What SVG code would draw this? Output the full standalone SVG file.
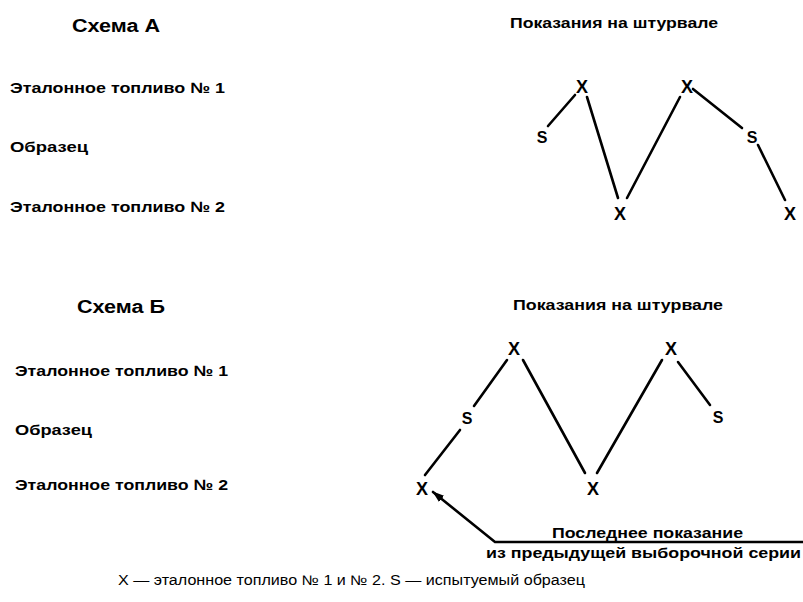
<svg xmlns="http://www.w3.org/2000/svg" width="803" height="602" viewBox="0 0 803 602">
<style>
.t{font-family:"Liberation Sans",Arial,sans-serif;font-weight:bold;fill:#000}
.h{font-size:18px}
.l{font-size:15px}
.m{font-size:18px;text-anchor:middle}
.s{font-size:16px;text-anchor:middle}
.f{font-family:"Liberation Sans",Arial,sans-serif;font-size:14px;fill:#000}
.c{stroke:#000;stroke-width:2.6;fill:none;stroke-linecap:round}
</style>
<defs>
<marker id="ah" viewBox="0 0 12 8" refX="11" refY="4" markerWidth="12" markerHeight="8" markerUnits="userSpaceOnUse" orient="auto">
<path d="M0,0 L12,4 L0,8 Z" fill="#000"/>
</marker>
</defs>
<rect width="803" height="602" fill="#fff"/>

<g id="schemeA-labels">
<text class="t h" x="72" y="32" textLength="88" lengthAdjust="spacingAndGlyphs">Схема А</text>
<text class="t l" x="10" y="93" textLength="215" lengthAdjust="spacingAndGlyphs">Эталонное топливо № 1</text>
<text class="t l" x="10" y="152" textLength="78" lengthAdjust="spacingAndGlyphs">Образец</text>
<text class="t l" x="10" y="212" textLength="215" lengthAdjust="spacingAndGlyphs">Эталонное топливо № 2</text>
<text class="t l" x="510" y="28" textLength="208" lengthAdjust="spacingAndGlyphs">Показания на штурвале</text>
</g>

<g id="schemeB-labels">
<text class="t h" x="77" y="313" textLength="88" lengthAdjust="spacingAndGlyphs">Схема Б</text>
<text class="t l" x="15" y="376" textLength="213" lengthAdjust="spacingAndGlyphs">Эталонное топливо № 1</text>
<text class="t l" x="15" y="435" textLength="77" lengthAdjust="spacingAndGlyphs">Образец</text>
<text class="t l" x="15" y="490" textLength="213" lengthAdjust="spacingAndGlyphs">Эталонное топливо № 2</text>
<text class="t l" x="513" y="310" textLength="210" lengthAdjust="spacingAndGlyphs">Показания на штурвале</text>
</g>

<g id="connectors">
<line class="c" x1="548" y1="126" x2="575" y2="95"/>
<line class="c" x1="587" y1="97" x2="618" y2="198"/>
<line class="c" x1="627" y1="198" x2="680" y2="97"/>
<line class="c" x1="693" y1="89" x2="742" y2="128"/>
<line class="c" x1="758" y1="145" x2="785" y2="200"/>

<line class="c" x1="425" y1="475" x2="460" y2="430"/>
<line class="c" x1="474" y1="406" x2="507" y2="360"/>
<line class="c" x1="523" y1="360" x2="585" y2="473"/>
<line class="c" x1="597" y1="473" x2="662" y2="360"/>
<line class="c" x1="678" y1="362" x2="710" y2="405"/>

<polyline class="c" points="803,542 495,542 433,492" stroke-width="2.2" stroke-linecap="butt" marker-end="url(#ah)"/>
</g>

<g id="nodeA-X1"><text class="t m" x="582" y="93">X</text></g>
<g id="nodeA-S1"><text class="t s" x="542" y="143">S</text></g>
<g id="nodeA-X2"><text class="t m" x="620" y="220">X</text></g>
<g id="nodeA-X3"><text class="t m" x="687" y="93">X</text></g>
<g id="nodeA-S2"><text class="t s" x="752" y="143">S</text></g>
<g id="nodeA-X4"><text class="t m" x="790" y="220">X</text></g>

<g id="nodeB-X1"><text class="t m" x="514" y="355">X</text></g>
<g id="nodeB-S1"><text class="t s" x="467" y="424">S</text></g>
<g id="nodeB-X0"><text class="t m" x="422" y="495">X</text></g>
<g id="nodeB-X2"><text class="t m" x="593" y="495">X</text></g>
<g id="nodeB-X3"><text class="t m" x="671" y="355">X</text></g>
<g id="nodeB-S2"><text class="t s" x="718" y="423">S</text></g>

<g id="note">
<text class="t l" x="552" y="538" textLength="191" lengthAdjust="spacingAndGlyphs">Последнее показание</text>
<text class="t l" x="486" y="558" textLength="315" lengthAdjust="spacingAndGlyphs">из предыдущей выборочной серии</text>
</g>

<g id="footer">
<text class="f" x="118" y="585" textLength="467" lengthAdjust="spacingAndGlyphs">X — эталонное топливо № 1 и № 2. S — испытуемый образец</text>
</g>
</svg>
